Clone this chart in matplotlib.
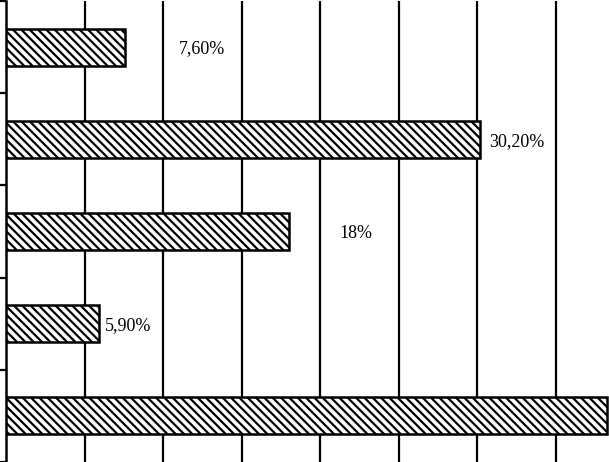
import numpy as np
import matplotlib.pyplot as plt

# bar values in percent, top to bottom (last bar runs off the right edge)
values = [7.6, 30.2, 18.0, 5.9, 38.3]
labels = ["7,60%", "30,20%", "18%", "5,90%", ""]

# where each data label sits along the x axis (data units, label centre)
label_x = [12.5, 32.5, 22.3, 7.8, 0]

plt.rcParams['font.family'] = ['Liberation Serif', 'DejaVu Serif']
plt.rcParams['hatch.linewidth'] = 1.6

fig = plt.figure(figsize=(6.09, 4.62), dpi=100)
ax = fig.add_axes([6 / 609, 0, 603 / 609, 461 / 462])

y = np.arange(len(values))
ax.barh(y, values, height=0.4, color='white', edgecolor='black',
        linewidth=1.8, hatch='\\\\\\\\', zorder=3)

for yi, txt, lx in zip(y, labels, label_x):
    if txt:
        ax.text(lx, yi + 0.02, txt, ha='center', va='center', fontsize=13, zorder=4)

ax.set_xlim(0, 38.4)
ax.set_ylim(len(values) - 0.5, -0.5)

# vertical gridlines every 5%
ax.set_xticks(np.arange(5, 38, 5))
ax.xaxis.grid(True, color='black', linewidth=1.6)
ax.tick_params(axis='x', length=0, labelbottom=False)

ax.set_yticks(np.arange(-0.5, len(values), 1.0))
ax.tick_params(axis='y', length=5, width=1.6, direction='out', labelleft=False)

for side in ['top', 'right', 'bottom']:
    ax.spines[side].set_visible(False)
ax.spines['left'].set_linewidth(1.8)

fig.savefig('out.png', dpi=100)
